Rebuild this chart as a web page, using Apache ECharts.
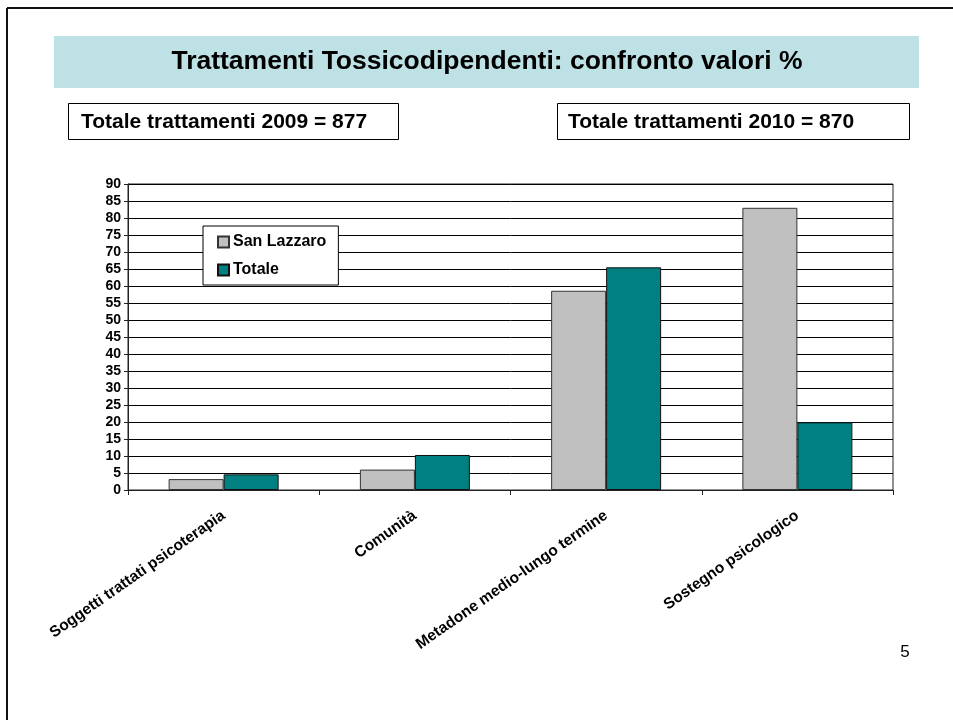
<!DOCTYPE html>
<html>
<head>
<meta charset="utf-8">
<script src="https://cdn.jsdelivr.net/npm/echarts@6/dist/echarts.min.js"></script>
<style>
  html, body { margin: 0; padding: 0; background: #fff; }
  #chart { width: 953px; height: 720px; }
</style>
</head>
<body>
<div id="chart"></div>
<script>
const categories = ['Soggetti trattati psicoterapia', 'Comunità', 'Metadone medio-lungo termine', 'Sostegno psicologico']
const sanLazzaro = [3.2, 6.0, 58.6, 83.0]
const totale = [4.6, 10.3, 65.5, 19.9]
const seriesNames = ['San Lazzaro', 'Totale']

const FONT = 'Arial, "Liberation Sans", sans-serif'

window.onload = () => {
    let chart = echarts.init(document.getElementById('chart'))
    let option = {
        backgroundColor: '#fff',
        animation: false,
        textStyle: { fontFamily: FONT },

        // slide decorations: frame, title band, two text boxes, page number
        graphic: [
            { type: 'line', shape: { x1: 7, y1: 8, x2: 7, y2: 720 }, style: { stroke: '#111', lineWidth: 2 } },
            { type: 'line', shape: { x1: 7, y1: 8, x2: 953, y2: 8 }, style: { stroke: '#111', lineWidth: 2 } },
            { type: 'rect', shape: { x: 54, y: 36, width: 865, height: 52 }, style: { fill: '#BDE1E4' } },
            {
                type: 'text', x: 487, y: 62,
                style: { text: 'Trattamenti Tossicodipendenti: confronto valori %', font: 'bold 26.5px ' + FONT, fill: '#000', textAlign: 'center', textVerticalAlign: 'middle' }
            },
            { type: 'rect', shape: { x: 68.5, y: 103.5, width: 330, height: 36 }, style: { fill: '#fff', stroke: '#000', lineWidth: 1 } },
            {
                type: 'text', x: 81, y: 122,
                style: { text: 'Totale trattamenti 2009 = 877', font: 'bold 21px ' + FONT, fill: '#000', textVerticalAlign: 'middle' }
            },
            { type: 'rect', shape: { x: 557.5, y: 103.5, width: 352, height: 36 }, style: { fill: '#fff', stroke: '#000', lineWidth: 1 } },
            {
                type: 'text', x: 568, y: 122,
                style: { text: 'Totale trattamenti 2010 = 870', font: 'bold 21px ' + FONT, fill: '#000', textVerticalAlign: 'middle' }
            },
            {
                type: 'text', x: 905, y: 652,
                style: { text: '5', font: '17px ' + FONT, fill: '#000', textAlign: 'center', textVerticalAlign: 'middle' }
            }
        ],

        legend: {
            data: seriesNames,
            orient: 'vertical',
            left: 203,
            top: 226,
            padding: [8, 12, 7, 14],
            itemGap: 12,
            itemWidth: 11,
            itemHeight: 11,
            icon: 'rect',
            backgroundColor: '#fff',
            borderColor: '#000',
            borderWidth: 1,
            borderRadius: 0,
            textStyle: { fontFamily: FONT, fontWeight: 'bold', fontSize: 16, color: '#000', padding: [0, 0, 0, -1] }
        },

        grid: {
            left: 128,
            right: 60,
            top: 184,
            bottom: 230,
            show: true,
            borderColor: '#222',
            borderWidth: 1,
            containLabel: false
        },

        xAxis: {
            type: 'category',
            data: categories,
            boundaryGap: true,
            axisLine: { lineStyle: { color: '#222', width: 1 } },
            axisTick: { show: true, length: 5, lineStyle: { color: '#222' } },
            axisLabel: {
                rotate: 35,
                interval: 0,
                margin: 24,
                color: '#000',
                fontFamily: FONT,
                fontWeight: 'bold',
                fontSize: 15.5
            }
        },

        yAxis: {
            type: 'value',
            min: 0,
            max: 90,
            interval: 5,
            axisLine: { show: true, lineStyle: { color: '#222', width: 1 } },
            axisTick: { show: true, length: 4, lineStyle: { color: '#222' } },
            axisLabel: { color: '#000', fontFamily: FONT, fontWeight: 'bold', fontSize: 14, margin: 7 },
            splitLine: { show: true, lineStyle: { color: '#000', width: 1 } }
        },

        series: [{
            name: seriesNames[0],
            type: 'bar',
            data: sanLazzaro,
            barWidth: 55,
            barGap: '0%',
            itemStyle: { color: '#C0C0C0', borderColor: '#333', borderWidth: 1 }
        }, {
            name: seriesNames[1],
            type: 'bar',
            data: totale,
            barWidth: 55,
            barGap: '0%',
            itemStyle: { color: '#008080', borderColor: '#111', borderWidth: 1 }
        }]
    }
    chart.setOption(option)
}
</script>
</body>
</html>
